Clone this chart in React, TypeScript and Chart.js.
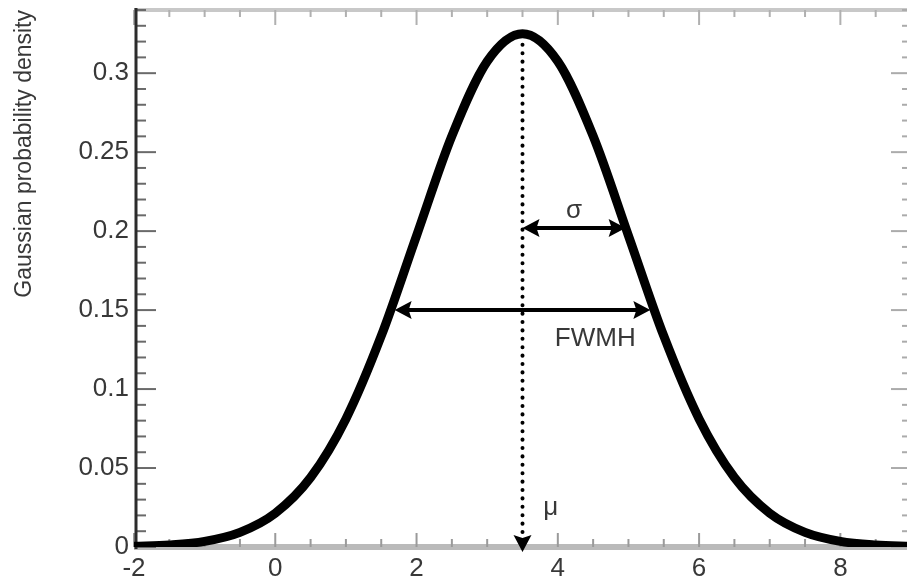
import { useEffect, useRef } from 'react';
import { Chart, registerables } from 'chart.js';

Chart.register(...registerables);

// Sampled Gaussian density curve
const xValues = [-2, -1.5, -1, -0.5, 0, 0.5, 1, 1.5, 2, 2.5, 3, 3.5, 4, 4.5, 5, 5.5, 6, 6.5, 7, 7.5, 8, 8.5, 9];
const densityValues = [
  0.0004, 0.0013, 0.0036, 0.0093, 0.0214, 0.044, 0.0811, 0.1336, 0.1971, 0.2602, 0.3075, 0.325,
  0.3075, 0.2602, 0.1971, 0.1336, 0.0811, 0.044, 0.0214, 0.0093, 0.0036, 0.0013, 0.0004,
];

// Axis ranges and labelled ticks
const xRange = [-2, 9];
const yRange = [0, 0.34];
const xTickValues = [-2, 0, 2, 4, 6, 8];
const xTickLabels = ['-2', '0', '2', '4', '6', '8'];
const yTickValues = [0, 0.05, 0.1, 0.15, 0.2, 0.25, 0.3];
const yTickLabels = ['0', '0.05', '0.1', '0.15', '0.2', '0.25', '0.3'];
const xMinorStep = 0.5;
const xMajorStep = 2;
const yMinorStep = 0.01;
const yMajorStep = 0.05;

// Annotations: mean marker, sigma and FWHM arrows, their labels
const muValue = 3.5;
const muLineTop = 0.318;
const sigmaArrowX = [3.5, 4.96];
const sigmaArrowY = 0.202;
const fwhmArrowX = [1.69, 5.31];
const fwhmArrowY = 0.15;
const noteLabels = ['σ', 'FWMH', 'μ'];
const noteX = [4.23, 4.53, 3.9];
const noteY = [0.2083, 0.127, 0.0203];

const FONT = '"Liberation Sans", Arial, Helvetica, sans-serif';
const TEXT_COLOR = '#383838';

function arrowHead(ctx: CanvasRenderingContext2D, tx: number, ty: number, dx: number, dy: number, len: number, half: number) {
  const px = -dy;
  const py = dx;
  const bx = tx - dx * len;
  const by = ty - dy * len;
  ctx.beginPath();
  ctx.moveTo(tx, ty);
  ctx.lineTo(bx + px * half, by + py * half);
  ctx.lineTo(bx + dx * 3, by + dy * 3);
  ctx.lineTo(bx - px * half, by - py * half);
  ctx.closePath();
  ctx.fill();
}

const framePlugin = {
  id: 'frame',
  beforeDatasetsDraw(chart: any) {
    const { ctx, chartArea: a, scales } = chart;
    const xs = scales.x;
    const ys = scales.y;
    const seg = (x1: number, y1: number, x2: number, y2: number) => {
      ctx.beginPath();
      ctx.moveTo(x1, y1);
      ctx.lineTo(x2, y2);
      ctx.stroke();
    };
    ctx.save();
    ctx.lineCap = 'butt';

    // bottom and top frame lines
    ctx.strokeStyle = '#bababa';
    ctx.lineWidth = 6;
    seg(a.left, a.bottom, a.right, a.bottom);
    ctx.strokeStyle = '#c8c8c8';
    ctx.lineWidth = 4;
    seg(a.left, a.top, a.right, a.top);

    // x ticks (bottom and top, pointing inward)
    const nx = Math.round((xRange[1] - xRange[0]) / xMinorStep);
    for (let i = 0; i <= nx; i++) {
      const v = xRange[0] + i * xMinorStep;
      const r = v / xMajorStep;
      const major = Math.abs(r - Math.round(r)) < 1e-6;
      const px = xs.getPixelForValue(v);
      ctx.lineWidth = 2;
      ctx.strokeStyle = '#9a9a9a';
      seg(px, a.bottom, px, a.bottom - (major ? 14 : 8));
      ctx.strokeStyle = '#b0b0b0';
      seg(px, a.top, px, a.top + (major ? 15 : 7));
    }

    // y ticks (left and right, pointing inward)
    const ny = Math.round((yRange[1] - yRange[0]) / yMinorStep);
    for (let i = 0; i <= ny; i++) {
      const v = yRange[0] + i * yMinorStep;
      const r = v / yMajorStep;
      const major = Math.abs(r - Math.round(r)) < 1e-6;
      const py = ys.getPixelForValue(v);
      ctx.lineWidth = 2;
      ctx.strokeStyle = '#6a6a6a';
      seg(a.left + 2, py, a.left + 2 + (major ? 20 : 10), py);
      ctx.strokeStyle = '#ababab';
      seg(a.right, py, a.right - (major ? 20 : 9), py);
    }

    // left axis line
    ctx.strokeStyle = '#2c2c2c';
    ctx.lineWidth = 3;
    seg(a.left + 2, a.top - 2, a.left + 2, a.bottom + 2);
    ctx.restore();
  },
};

const notesPlugin = {
  id: 'notes',
  afterDatasetsDraw(chart: any) {
    const { ctx, scales } = chart;
    const xs = scales.x;
    const ys = scales.y;
    ctx.save();
    ctx.fillStyle = '#000';
    ctx.strokeStyle = '#000';

    // dotted mean line with arrow at the axis
    const mx = xs.getPixelForValue(muValue);
    const tipY = ys.getPixelForValue(0) + 5;
    const headLen = 17;
    ctx.lineWidth = 4;
    ctx.lineCap = 'round';
    ctx.setLineDash([0.1, 8.3]);
    ctx.beginPath();
    ctx.moveTo(mx, ys.getPixelForValue(muLineTop));
    ctx.lineTo(mx, tipY - headLen + 2);
    ctx.stroke();
    ctx.setLineDash([]);
    arrowHead(ctx, mx, tipY, 0, 1, headLen, 9);

    // double-headed arrows
    const doubleArrow = (x1: number, x2: number, y: number) => {
      const p1 = xs.getPixelForValue(x1);
      const p2 = xs.getPixelForValue(x2);
      const py = ys.getPixelForValue(y);
      ctx.lineWidth = 4;
      ctx.lineCap = 'butt';
      ctx.beginPath();
      ctx.moveTo(p1 + 8, py);
      ctx.lineTo(p2 - 8, py);
      ctx.stroke();
      arrowHead(ctx, p1, py, -1, 0, headLen, 9);
      arrowHead(ctx, p2, py, 1, 0, headLen, 9);
    };
    doubleArrow(sigmaArrowX[0], sigmaArrowX[1], sigmaArrowY);
    doubleArrow(fwhmArrowX[0], fwhmArrowX[1], fwhmArrowY);

    // labels
    ctx.fillStyle = TEXT_COLOR;
    ctx.font = `26px ${FONT}`;
    ctx.textAlign = 'center';
    ctx.textBaseline = 'alphabetic';
    noteLabels.forEach((t, i) => {
      ctx.fillText(t, xs.getPixelForValue(noteX[i]), ys.getPixelForValue(noteY[i]));
    });
    ctx.restore();
  },
};

export default function App() {
  const canvasRef = useRef<HTMLCanvasElement | null>(null);

  useEffect(() => {
    const canvas = canvasRef.current;
    if (!canvas) return;
    const chart = new Chart(canvas, {
      type: 'line',
      data: {
        datasets: [
          {
            data: xValues.map((x, i) => ({ x, y: densityValues[i] })),
            borderColor: '#000',
            borderWidth: 9,
            pointRadius: 0,
            fill: false,
            cubicInterpolationMode: 'monotone',
            borderJoinStyle: 'round',
            borderCapStyle: 'round',
          },
        ],
      },
      options: {
        animation: false,
        responsive: false,
        maintainAspectRatio: false,
        events: [],
        layout: { padding: { top: 10, right: 1, left: 0, bottom: 0 } },
        plugins: {
          legend: { display: false },
          tooltip: { enabled: false },
          title: { display: false },
        },
        scales: {
          x: {
            type: 'linear',
            min: xRange[0],
            max: xRange[1],
            grid: { display: false, drawTicks: false },
            border: { display: false },
            ticks: {
              padding: 6,
              color: TEXT_COLOR,
              font: { family: FONT, size: 26 },
              maxRotation: 0,
              autoSkip: false,
              callback: (v: any) => {
                const i = xTickValues.indexOf(Number(v));
                return i >= 0 ? xTickLabels[i] : '';
              },
            },
            afterBuildTicks: (scale: any) => {
              scale.ticks = xTickValues.map((value) => ({ value }));
            },
            afterFit: (scale: any) => {
              scale.height = 34;
              scale.paddingLeft = 0;
              scale.paddingRight = 0;
            },
          },
          y: {
            type: 'linear',
            min: yRange[0],
            max: yRange[1],
            grid: { display: false, drawTicks: false },
            border: { display: false },
            ticks: {
              padding: 5,
              color: TEXT_COLOR,
              font: { family: FONT, size: 26 },
              autoSkip: false,
              callback: (v: any) => {
                const i = yTickValues.findIndex((t) => Math.abs(t - Number(v)) < 1e-9);
                return i >= 0 ? yTickLabels[i] : '';
              },
            },
            afterBuildTicks: (scale: any) => {
              scale.ticks = yTickValues.map((value) => ({ value }));
            },
            afterFit: (scale: any) => {
              scale.width = 134;
              scale.paddingTop = 0;
              scale.paddingBottom = 0;
            },
            title: {
              display: true,
              text: 'Gaussian probability density',
              align: 'end',
              color: TEXT_COLOR,
              font: { family: FONT, size: 23 },
              padding: { top: 11, bottom: 0 },
            },
          },
        },
      },
      plugins: [framePlugin, notesPlugin],
    } as any);
    return () => chart.destroy();
  }, []);

  return (
    <div
      style={{
        position: 'fixed',
        left: 0,
        top: 0,
        width: 907,
        height: 581,
        overflow: 'hidden',
        background: '#fff',
      }}
    >
      <canvas ref={canvasRef} width={912} height={581} style={{ display: 'block' }} />
    </div>
  );
}
